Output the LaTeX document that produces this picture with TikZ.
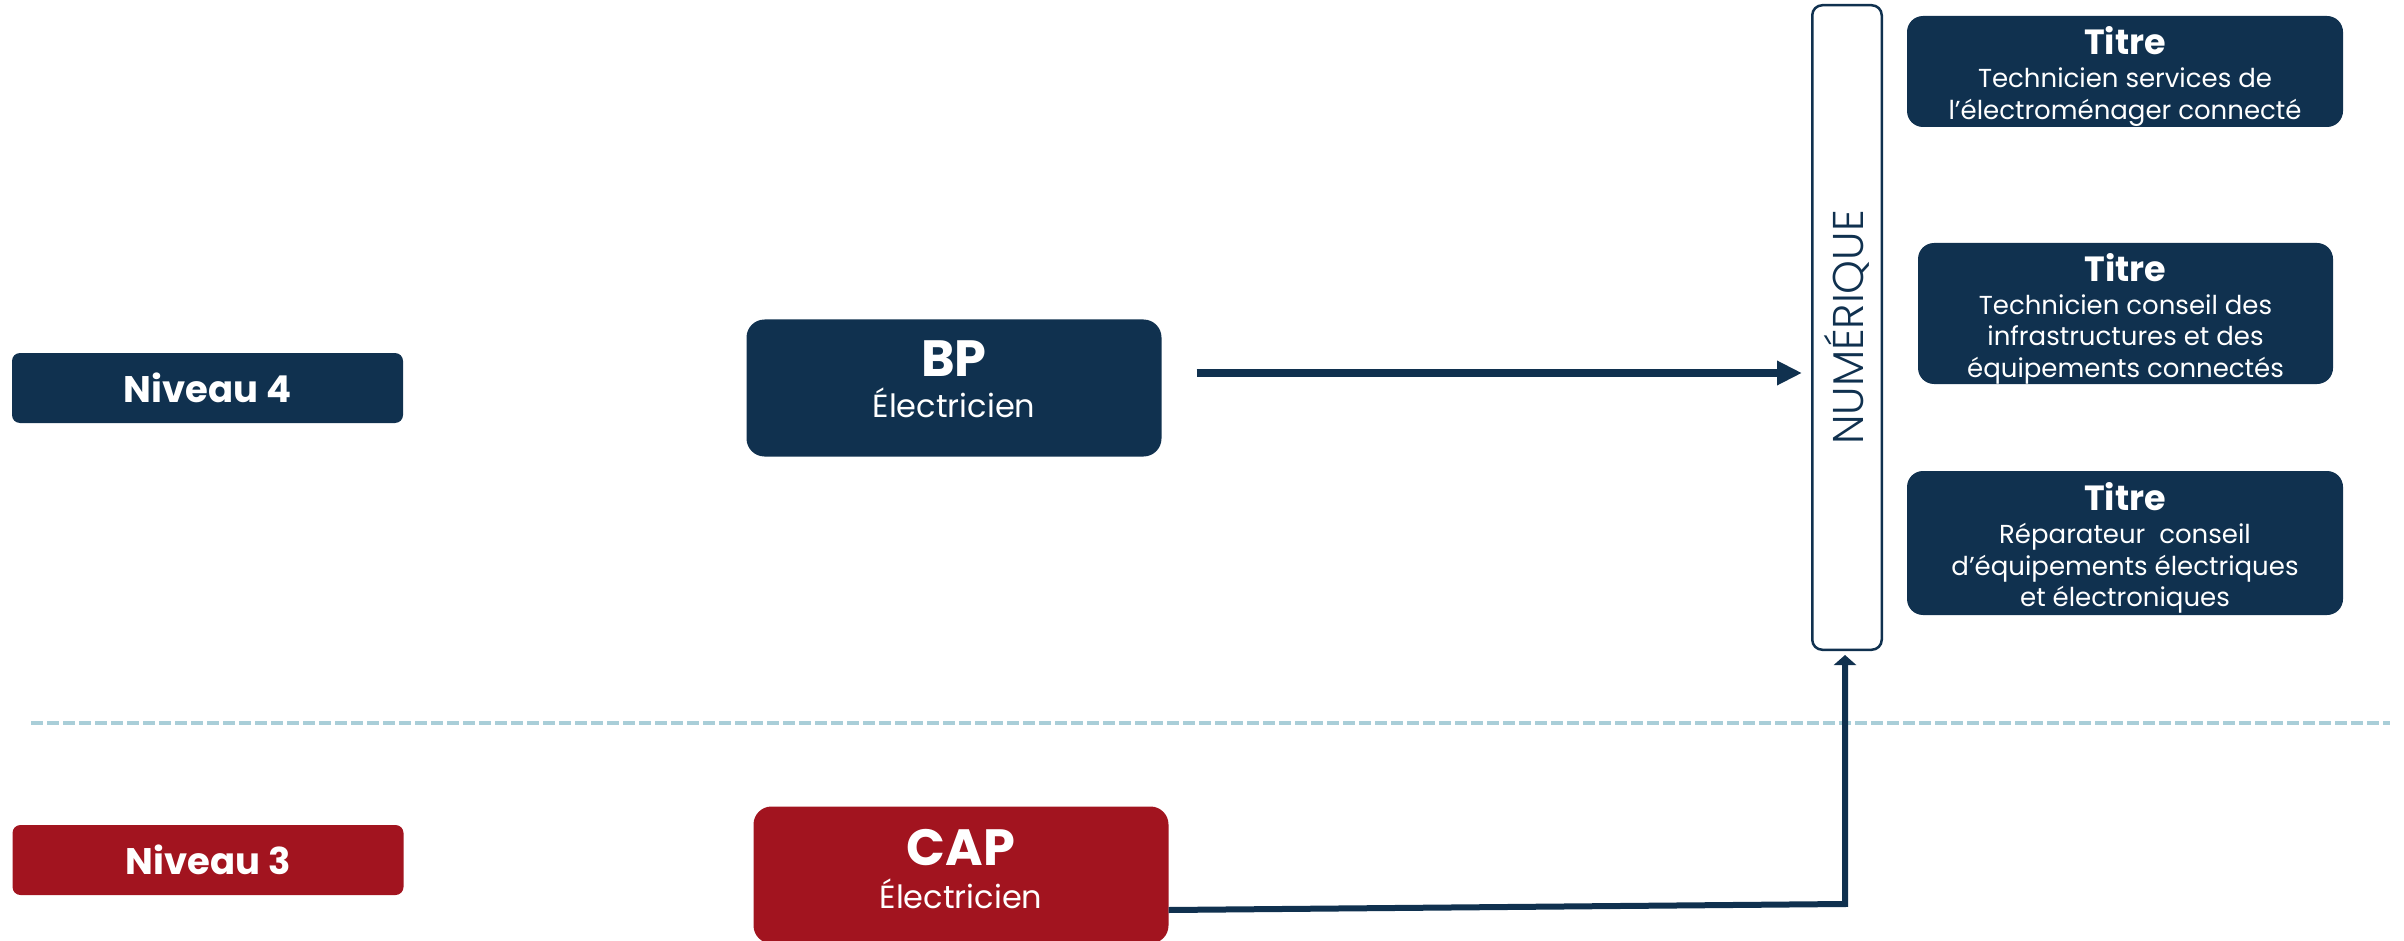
\documentclass[tikz,border=0pt]{standalone}
\usepackage{fontspec}
\setmainfont{Poppins}
\newfontfamily\lightfont{Poppins Light}
\usetikzlibrary{arrows.meta,positioning,calc}
\definecolor{navy}{RGB}{16,49,79}
\definecolor{cardinal}{RGB}{162,20,31}
\definecolor{sepblue}{RGB}{169,206,216}
% bold heading line of a box, strut fixes the top of the text block
\newcommand{\titreline}{{\bfseries\fontsize{35}{31.5}\selectfont\rule{0pt}{38pt}Titre}\\[1.5pt]}
\newcommand{\diplo}[3]{{\bfseries\fontsize{51}{42}\selectfont #1}\\ #2\rule[-#3]{0pt}{0pt}}

\begin{document}
\begin{tikzpicture}[x=1pt,y=-1pt,
        box/.style={inner sep=0pt, align=center, text=white},
        navybox/.style={box, fill=navy},
        redbox/.style={box, fill=cardinal},
        lvl/.style={font=\bfseries\fontsize{37}{40}\selectfont, minimum width=391pt, minimum height=70pt, rounded corners=8pt},
        dipl/.style={font=\fontsize{32}{41}\selectfont, minimum width=415pt, minimum height=137pt, rounded corners=18pt},
        titre/.style={navybox, font=\fontsize{26}{31.5}\selectfont, rounded corners=16pt},
        flow/.style={draw=navy, line width=8pt, -{Triangle[length=25pt,width=23pt]}},
        link/.style={draw=navy, line width=6pt, -{Triangle[length=10pt,width=22pt]}}]

        \useasboundingbox (0,0) rectangle (2404,941);

        %% levels
        \node [navybox, lvl] (lvl_4) at (207.5,388) {Niveau 4};
        \node [redbox, lvl] (lvl_3) at (208,860) {Niveau 3};
        \draw [sepblue, line width=4pt, dash pattern=on 12pt off 4pt] (31,723) -- (2390,723);

        %% diplomas
        \node [navybox, dipl] (dipl_bp) at (954,388) {\diplo{BP}{Électricien}{18pt}};
        \node [redbox, dipl, font=\fontsize{32}{43}\selectfont] (dipl_cap) at (961,875) {\diplo{CAP}{Électricien}{12pt}};

        %% numerique column
        \node [draw=navy, line width=2.5pt, rounded corners=10pt, inner sep=0pt,
          minimum width=69.5pt, minimum height=644.5pt] (num_box) at (1847,327.5) {};
        \node [rotate=90, text=navy, font=\lightfont\fontsize{43}{43}\selectfont] (num_label) at (num_box.center) {NUMÉRIQUE};

        %% titles
        \node [titre, minimum width=436pt, minimum height=111pt] (titre_1) at (2125,71.5)
          {\titreline Technicien services de\\ l’électroménager connecté};
        \node [titre, minimum width=415pt, minimum height=141pt] (titre_2) at (2125.5,313.5)
          {\titreline Technicien conseil des\\ infrastructures et des\\ équipements connectés};
        \node [titre, minimum width=436pt, minimum height=144pt] (titre_3) at (2125,543)
          {\titreline Réparateur~ conseil\\ d’équipements électriques\\ et électroniques};

        %% arrows
        \coordinate (bp_out) at ([shift={(35,-15)}]dipl_bp.east);
        \draw [flow, shorten >=9pt] (bp_out) -- (bp_out -| num_box.west);
        \coordinate (cap_out) at ([shift={(0,35)}]dipl_cap.east);
        \coordinate (kink_cap) at (1845,904);
        \draw [link, shorten >=4pt] (cap_out) -- (kink_cap) -- (kink_cap |- num_box.south);

      \end{tikzpicture}
\end{document}
